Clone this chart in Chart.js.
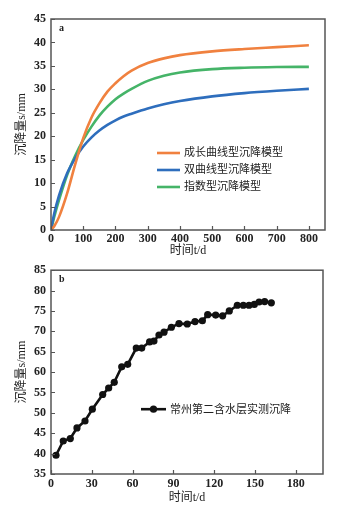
<!DOCTYPE html>
<html>
<head>
<meta charset="utf-8">
<script src="https://cdn.jsdelivr.net/npm/chart.js@4/dist/chart.umd.min.js"></script>
<style>
  html, body { margin: 0; padding: 0; background: #fff; }
  #wrap { position: relative; width: 338px; height: 514px; overflow: hidden; }
  canvas { position: absolute; left: 0; }
  #chartA { top: 0; }
  #chartB { top: 258px; }
</style>
</head>
<body>
<div id="wrap">
  <canvas id="chartA" width="338" height="258"></canvas>
  <canvas id="chartB" width="338" height="256"></canvas>
</div>
<script>
// ---- Panel a: model settlement curves ----
const daysA = [0, 10, 25, 50, 75, 100, 125, 150, 175, 200, 225, 250, 300, 350, 400, 500, 600, 700, 800];
const growthModel      = [0, 0.8, 2.8, 7.8, 14.0, 19.6, 23.9, 27.0, 29.5, 31.3, 32.8, 34.0, 35.6, 36.6, 37.3, 38.1, 38.6, 39.0, 39.4];
const hyperbolicModel  = [0, 3.5, 7.4, 12.1, 15.3, 17.8, 19.7, 21.2, 22.4, 23.4, 24.2, 24.8, 25.9, 26.8, 27.5, 28.5, 29.2, 29.7, 30.1];
const exponentialModel = [0, 2.8, 6.4, 11.7, 15.8, 19.2, 22.0, 24.4, 26.3, 27.9, 29.1, 30.1, 31.8, 32.9, 33.6, 34.3, 34.6, 34.75, 34.8];
const seriesNamesA = ['成长曲线型沉降模型', '双曲线型沉降模型', '指数型沉降模型'];
const xTicksA = [0, 100, 200, 300, 400, 500, 600, 700, 800];

// ---- Panel b: measured settlement ----
const daysB = [3.7, 9, 14.2, 19.1, 25, 30.4, 38, 42.4, 46.5, 52, 56.4, 62.7, 66.7, 72.5, 75.7, 79.4, 83.1,
               88.5, 94.1, 100.2, 105.9, 111.3, 115.2, 121.1, 126.2, 131.1, 137, 141.4, 145.6, 149.5, 153, 157.1, 162];
const measuredB = [39.6, 43.1, 43.7, 46.3, 48.0, 50.9, 54.5, 56.1, 57.5, 61.3, 61.9, 65.9, 65.9, 67.4, 67.6, 69.1, 69.8,
                   71.0, 71.9, 71.8, 72.4, 72.6, 74.1, 74.0, 73.8, 75.0, 76.4, 76.4, 76.4, 76.6, 77.2, 77.3, 77.0];
const seriesNameB = '常州第二含水层实测沉降';
const xTicksB = [0, 30, 60, 90, 120, 150, 180];

const axisTitleY = '沉降量s/mm';
const axisTitleX = '时间t/d';

const NUM_FONT = { family: '"Liberation Serif", "DejaVu Serif", serif', size: 12, weight: 'bold' };
const CJK_FAMILY = '"Liberation Serif", "Noto Sans CJK SC", serif';
const INK = '#222';
const FRAME = '#555';

const zip = (xs, ys) => xs.map((x, i) => ({ x, y: ys[i] }));

// Draws the boxed frame, inward tick marks, panel tag and in-plot legend
const framePlugin = {
  id: 'frame',
  afterDatasetsDraw(chart, args, opts) {
    const { ctx, chartArea: a, scales } = chart;
    ctx.save();
    ctx.strokeStyle = FRAME;
    ctx.lineWidth = 1.5;
    ctx.strokeRect(a.left, a.top, a.right - a.left, a.bottom - a.top);

    ctx.lineWidth = 1.2;
    ctx.beginPath();
    scales.x.ticks.forEach(t => {
      const px = Math.round(scales.x.getPixelForValue(t.value)) + 0.5;
      ctx.moveTo(px, a.bottom); ctx.lineTo(px, a.bottom - 4);
    });
    scales.y.ticks.forEach(t => {
      const py = Math.round(scales.y.getPixelForValue(t.value)) + 0.5;
      ctx.moveTo(a.left, py); ctx.lineTo(a.left + 4, py);
    });
    ctx.stroke();

    ctx.fillStyle = INK;
    ctx.font = 'bold 10px "Liberation Serif", serif';
    ctx.textBaseline = 'middle';
    ctx.textAlign = 'left';
    ctx.fillText(opts.tag, a.left + 8, a.top + 9);

    // legend
    const lx = a.left + opts.legendX, ly = a.top + opts.legendY;
    ctx.font = '11px ' + CJK_FAMILY;
    chart.data.datasets.forEach((ds, i) => {
      const y = ly + i * opts.rowGap;
      ctx.strokeStyle = ds.borderColor;
      ctx.lineWidth = ds.borderWidth;
      ctx.beginPath();
      ctx.moveTo(lx, y); ctx.lineTo(lx + opts.lineLen, y);
      ctx.stroke();
      if (ds.pointRadius > 0) {
        ctx.fillStyle = ds.pointBackgroundColor;
        ctx.beginPath();
        ctx.arc(lx + opts.lineLen / 2, y, ds.pointRadius, 0, Math.PI * 2);
        ctx.fill();
      }
      ctx.fillStyle = INK;
      ctx.fillText(ds.label, lx + opts.lineLen + 4, y + 0.5);
    });
    ctx.restore();
  }
};

function axisCommon(extra) {
  return Object.assign({
    type: 'linear',
    grid: { display: false, drawTicks: false },
    border: { display: false },
    ticks: { color: INK, font: NUM_FONT, padding: 4 }
  }, extra);
}

Chart.defaults.animation = false;

new Chart(document.getElementById('chartA'), {
  type: 'line',
  data: {
    datasets: [
      { label: seriesNamesA[0], data: zip(daysA, growthModel), borderColor: '#F0813F', borderWidth: 2.6 },
      { label: seriesNamesA[1], data: zip(daysA, hyperbolicModel), borderColor: '#2E6EBD', borderWidth: 2.6 },
      { label: seriesNamesA[2], data: zip(daysA, exponentialModel), borderColor: '#45B468', borderWidth: 2.6 }
    ].map(d => Object.assign(d, { pointRadius: 0, cubicInterpolationMode: 'monotone', fill: false }))
  },
  options: {
    responsive: false,
    layout: { padding: { top: 19, right: 13, bottom: 0, left: 0 } },
    plugins: {
      legend: { display: false },
      tooltip: { enabled: false },
      frame: { tag: 'a', legendX: 106, legendY: 134, rowGap: 17, lineLen: 23 }
    },
    scales: {
      x: axisCommon({
        min: 0, max: 850,
        ticks: { color: INK, font: NUM_FONT, padding: 2, autoSkip: false, maxRotation: 0 },
        afterBuildTicks: s => { s.ticks = xTicksA.map(v => ({ value: v })); },
        afterFit: s => { s.height = 28; },
        title: { display: true, text: axisTitleX, color: INK, font: { family: CJK_FAMILY, size: 12 }, padding: { top: 1, bottom: 0 } }
      }),
      y: axisCommon({
        min: 0, max: 45,
        ticks: { color: INK, font: NUM_FONT, padding: 5, stepSize: 5 },
        afterFit: s => { s.width = 51; },
        title: { display: true, text: axisTitleY, color: INK, font: { family: CJK_FAMILY, size: 12 }, padding: { top: 15, bottom: 0 } }
      })
    }
  },
  plugins: [framePlugin]
});

new Chart(document.getElementById('chartB'), {
  type: 'line',
  data: {
    datasets: [{
      label: seriesNameB,
      data: zip(daysB, measuredB),
      borderColor: '#111', borderWidth: 2.6,
      pointRadius: 3.6, pointBackgroundColor: '#111', pointBorderWidth: 0,
      tension: 0, fill: false
    }]
  },
  options: {
    responsive: false,
    layout: { padding: { top: 8, right: 15, bottom: 9, left: 0 } },
    plugins: {
      legend: { display: false },
      tooltip: { enabled: false },
      frame: { tag: 'b', legendX: 90, legendY: 139, rowGap: 17, lineLen: 25 }
    },
    scales: {
      x: axisCommon({
        min: 0, max: 200,
        ticks: { color: INK, font: NUM_FONT, padding: 3, autoSkip: false, maxRotation: 0 },
        afterBuildTicks: s => { s.ticks = xTicksB.map(v => ({ value: v })); },
        afterFit: s => { s.height = 31; },
        title: { display: true, text: axisTitleX, color: INK, font: { family: CJK_FAMILY, size: 12 }, padding: { top: 1, bottom: 0 } }
      }),
      y: axisCommon({
        min: 35, max: 85,
        ticks: { color: INK, font: NUM_FONT, padding: 5, stepSize: 5 },
        afterFit: s => { s.width = 51; },
        title: { display: true, text: axisTitleY, color: INK, font: { family: CJK_FAMILY, size: 12 }, padding: { top: 15, bottom: 0 } }
      })
    }
  },
  plugins: [framePlugin]
});
</script>
</body>
</html>
